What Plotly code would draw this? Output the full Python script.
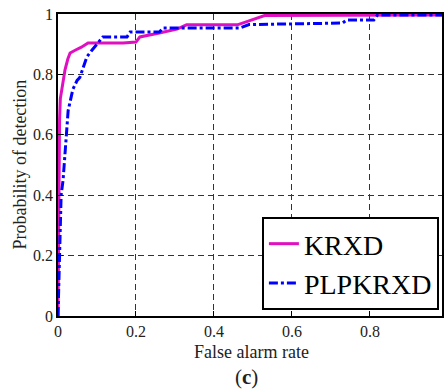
import plotly.graph_objects as go

krxd_x = [0, 0.002, 0.004, 0.006, 0.010, 0.018, 0.025, 0.031, 0.044, 0.060, 0.077,
          0.167, 0.200, 0.210, 0.260, 0.305, 0.330, 0.460, 0.490, 0.530, 0.985]
krxd_y = [0, 0.40, 0.65, 0.72, 0.75, 0.815, 0.85, 0.871, 0.88, 0.89, 0.904,
          0.904, 0.907, 0.924, 0.937, 0.950, 0.964, 0.964, 0.977, 0.995, 0.997]

plp_x = [0, 0.002, 0.005, 0.008, 0.013, 0.023, 0.026, 0.038, 0.049, 0.056, 0.074,
         0.087, 0.103, 0.115, 0.177, 0.185, 0.260, 0.270, 0.467, 0.490, 0.730,
         0.740, 0.810, 0.820, 0.985]
plp_y = [0, 0.10, 0.31, 0.40, 0.45, 0.616, 0.68, 0.75, 0.78, 0.79, 0.858,
         0.88, 0.904, 0.924, 0.924, 0.940, 0.940, 0.954, 0.954, 0.965, 0.970,
         0.980, 0.980, 0.997, 0.997]

x_ticks = [0, 0.2, 0.4, 0.6, 0.8]
x_labels = ["0", "0.2", "0.4", "0.6", "0.8"]
y_ticks = [0, 0.2, 0.4, 0.6, 0.8, 1]
y_labels = ["0", "0.2", "0.4", "0.6", "0.8", "1"]

serif = "Liberation Serif, Times New Roman, serif"

fig = go.Figure()
fig.add_trace(go.Scatter(x=krxd_x, y=krxd_y, mode="lines", name="KRXD",
                         line=dict(color="#e010c0", width=3)))
fig.add_trace(go.Scatter(x=plp_x, y=plp_y, mode="lines", name="PLPKRXD",
                         line=dict(color="#0000ff", width=3, dash="dashdot")))

axis_common = dict(showline=True, linecolor="black", linewidth=1.5, mirror=True,
                   ticks="inside", ticklen=5, tickcolor="black", automargin=False,
                   showgrid=True, gridcolor="#333", gridwidth=1, griddash="6px,4px",
                   zeroline=False, tickfont=dict(family=serif, size=16, color="#222"))

fig.update_xaxes(range=[0, 0.985], tickvals=x_ticks, ticktext=x_labels, **axis_common)
fig.update_yaxes(range=[0, 1], tickvals=y_ticks, ticktext=y_labels, **axis_common)

fig.add_annotation(text="False alarm rate", xref="paper", yref="paper", x=0.503, y=-0.118,
                   showarrow=False, font=dict(family=serif, size=18, color="#222"),
                   xanchor="center", yanchor="middle")
fig.add_annotation(text="Probability of detection", xref="paper", yref="paper", x=-0.1, y=0.5,
                   showarrow=False, textangle=-90, font=dict(family=serif, size=18, color="#222"),
                   xanchor="center", yanchor="middle")
fig.add_annotation(text="(<b>c</b>)", xref="paper", yref="paper", x=0.49, y=-0.203,
                   showarrow=False, font=dict(family=serif, size=21, color="#222"),
                   xanchor="center", yanchor="middle")

fig.update_layout(width=445, height=392, margin=dict(l=58, r=3, t=14, b=76, autoexpand=False),
                  paper_bgcolor="white", plot_bgcolor="white",
                  legend=dict(x=0.531, y=0.02, xanchor="left", yanchor="bottom",
                              bordercolor="black", borderwidth=2, bgcolor="white",
                              font=dict(family=serif, size=28, color="black"),
                              tracegroupgap=0, itemwidth=30),
                  font=dict(family=serif))

fig.write_html("out.html", config={"displayModeBar": False},
               post_script="document.body.style.margin='0';document.body.style.overflow='hidden';")
